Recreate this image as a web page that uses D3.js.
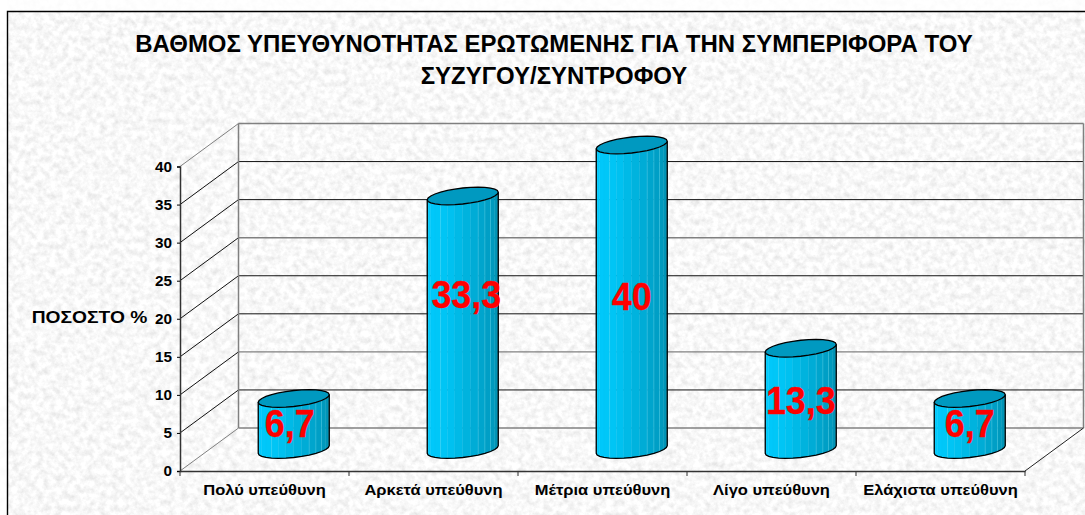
<!DOCTYPE html>
<html>
<head>
<meta charset="utf-8">
<script src="https://cdnjs.cloudflare.com/ajax/libs/d3/7.8.5/d3.min.js"></script>
<style>
html, body { margin: 0; padding: 0; background: #fff; overflow: hidden; }
text { font-family: "Liberation Sans", Arial, sans-serif; font-weight: bold; }
</style>
</head>
<body>
<svg id="chart" width="1085" height="515"></svg>
<script>
var categories = ["Πολύ υπεύθυνη", "Αρκετά υπεύθυνη", "Μέτρια υπεύθυνη", "Λίγο υπεύθυνη", "Ελάχιστα υπεύθυνη"];
var values = [6.7, 33.3, 40, 13.3, 6.7];
var valueLabels = ["6,7", "33,3", "40", "13,3", "6,7"];
var yTicks = [0, 5, 10, 15, 20, 25, 30, 35, 40];
var grayGrid = [0, 10, 25, 40];
var titleLines = ["ΒΑΘΜΟΣ ΥΠΕΥΘΥΝΟΤΗΤΑΣ ΕΡΩΤΩΜΕΝΗΣ ΓΙΑ ΤΗΝ ΣΥΜΠΕΡΙΦΟΡΑ ΤΟΥ", "ΣΥΖΥΓΟΥ/ΣΥΝΤΡΟΦΟΥ"];
var yTitle = "ΠΟΣΟΣΤΟ %";

var svg = d3.select("#chart");

// the original text runs a bit wider than the font does
function stretch(sel, k) {
    sel.each(function () {
        this.setAttribute("textLength", this.getComputedTextLength() * k);
        this.setAttribute("lengthAdjust", "spacingAndGlyphs");
    });
}

// paper texture for the chart area
var defs = svg.append("defs");
var paper = defs.append("filter").attr("id", "paper")
    .attr("x", 0).attr("y", 0).attr("width", "100%").attr("height", "100%");
paper.append("feTurbulence").attr("type", "fractalNoise")
    .attr("baseFrequency", 0.16).attr("numOctaves", 4).attr("seed", 7);
paper.append("feColorMatrix").attr("type", "matrix")
    .attr("values", "0.4 0 0 0 0.74  0.4 0 0 0 0.74  0.4 0 0 0 0.74  0 0 0 0 1");

svg.append("rect").attr("x", 0).attr("y", 0).attr("width", 1085).attr("height", 515)
    .attr("filter", "url(#paper)");
svg.append("rect").attr("x", 0).attr("y", 0).attr("width", 1085).attr("height", 11)
    .attr("fill", "#fff").attr("opacity", 0.8);
svg.append("rect").attr("x", 0).attr("y", 0).attr("width", 7).attr("height", 515)
    .attr("fill", "#fff").attr("opacity", 0.8);

// frame
svg.append("path").attr("d", "M7.5,515V11.5H1085")
    .attr("fill", "none").attr("stroke", "#000").attr("stroke-width", 1.4);

// scales, front plane of the 3d box
var x = d3.scaleBand().domain(categories).range([180, 1025]);
var y = d3.scaleLinear().domain([0, 40]).range([471, 166.5]);
var depthX = 58.5, depthY = -43;

function isGray(d) { return grayGrid.indexOf(d) >= 0; }

// side wall and back wall grid
var grid = svg.append("g").attr("fill", "none");
grid.selectAll("path.side").data(yTicks).enter().append("path")
    .attr("class", "side")
    .attr("d", function (d) {
        return "M" + x.range()[0] + "," + y(d) + "L" + (x.range()[0] + depthX) + "," + (y(d) + depthY);
    })
    .attr("stroke", function (d) { return d === 0 || d === 40 ? "#808080" : "#111"; });
grid.selectAll("path.back").data(yTicks).enter().append("path")
    .attr("class", "back")
    .attr("d", function (d) {
        return "M" + (x.range()[0] + depthX) + "," + (y(d) + depthY) + "H" + (x.range()[1] + depthX);
    })
    .attr("stroke", function (d) { return isGray(d) ? "#808080" : "#111"; })
    .attr("stroke-width", function (d) { return isGray(d) ? 1.4 : 1; });
grid.append("path")
    .attr("d", "M" + (x.range()[0] + depthX) + "," + (y(0) + depthY) + "V" + (y(40) + depthY))
    .attr("stroke", "#808080").attr("stroke-width", 1.5);
grid.append("path")
    .attr("d", "M" + (x.range()[1] + depthX) + "," + (y(0) + depthY) + "V" + (y(40) + depthY))
    .attr("stroke", "#808080").attr("stroke-width", 1.5);
grid.append("path")
    .attr("d", "M" + x.range()[1] + "," + y(0) + "L" + (x.range()[1] + depthX) + "," + (y(0) + depthY))
    .attr("stroke", "#222");

// cylinders
var radiusX = 35.5, radiusY = 8, tilt = 3.8, facets = 14;
var lightEdges = [4, 9, 10, 11];
var shade = d3.scaleLinear().domain([0, 0.35, 0.7, 1]).range(["#00ccff", "#00c4f4", "#00a4cc", "#0090b0"]);

function rimPoint(cx, cy, t) {
    return [cx + radiusX * Math.cos(t), cy + radiusY * Math.sin(t) - tilt * Math.cos(t)];
}

svg.append("g").selectAll("g").data(categories).enter().append("g")
    .each(function (c, i) {
        var g = d3.select(this);
        var cx = x(c) + x.bandwidth() / 2 + depthX / 2;
        var base = y(0) + depthY / 2;
        var top = y(values[i]) + depthY / 2;
        var h = base - top;
        var line = d3.line();

        // front half of the tube in flat strips, left to right
        d3.range(facets).forEach(function (k) {
            var t0 = Math.PI - Math.PI * k / facets;
            var t1 = Math.PI - Math.PI * (k + 1) / facets;
            var a = rimPoint(cx, base, t0), b = rimPoint(cx, base, t1);
            g.append("path")
                .attr("d", line([a, b, [b[0], b[1] - h], [a[0], a[1] - h]]) + "Z")
                .attr("fill", shade(k / (facets - 1)))
                .attr("stroke", shade(k / (facets - 1))).attr("stroke-width", 0.4);
        });

        // pale seams between some strips
        lightEdges.forEach(function (k) {
            var p = rimPoint(cx, base, Math.PI - Math.PI * k / facets);
            g.append("path").attr("d", line([p, [p[0], p[1] - h]]))
                .attr("stroke", "#66dcf5").attr("stroke-width", 0.6).attr("opacity", 0.6).attr("fill", "none");
        });

        // outline of the tube
        var lower = d3.range(facets + 1).map(function (k) {
            return rimPoint(cx, base, Math.PI - Math.PI * k / facets);
        });
        var first = lower[0], last = lower[facets];
        g.append("path")
            .attr("d", "M" + first[0] + "," + (first[1] - h) + line(lower).replace("M", "L") +
                "L" + last[0] + "," + (last[1] - h))
            .attr("fill", "none").attr("stroke", "#000").attr("stroke-width", 1.3);

        // top cap
        var cap = d3.range(facets * 2).map(function (k) {
            return rimPoint(cx, top, 2 * Math.PI * k / (facets * 2));
        });
        g.append("path").attr("d", line(cap) + "Z")
            .attr("fill", "#0099c0").attr("stroke", "#000").attr("stroke-width", 1.3);
    });

// front axes
var yAxis = d3.axisLeft(y).tickValues(yTicks).tickSize(3).tickPadding(5);
var gy = svg.append("g").attr("transform", "translate(" + x.range()[0] + ",0)").call(yAxis);
gy.select(".domain").attr("stroke", "#333").attr("stroke-width", 1.5);
gy.selectAll("text").attr("font-size", 15).attr("fill", "#000")
    .style("font-family", '"Liberation Sans", Arial, sans-serif')
    .call(stretch, 1.02);

var xAxis = d3.axisBottom(x).tickSize(0).tickPadding(13);
var gx = svg.append("g").attr("transform", "translate(0," + y(0) + ")").call(xAxis);
gx.select(".domain").attr("stroke", "#333").attr("stroke-width", 1.5);
gx.selectAll("text").attr("font-size", 15).attr("fill", "#000")
    .style("font-family", '"Liberation Sans", Arial, sans-serif')
    .call(stretch, 1.1);
gx.append("g").selectAll("line").data(categories.concat([null])).enter().append("line")
    .attr("x1", function (d) { return d ? x(d) : x.range()[1]; })
    .attr("x2", function (d) { return d ? x(d) : x.range()[1]; })
    .attr("y1", 0).attr("y2", 5).attr("stroke", "#333");

// value labels, centred in the bar, the tall ones sit at the same height
var labelNudge = [[-4, 0], [3.5, -2], [0, 0], [0, 2], [0, 0]];
svg.append("g").selectAll("text").data(categories).enter().append("text")
    .attr("x", function (c, i) { return x(c) + x.bandwidth() / 2 + depthX / 2 + labelNudge[i][0]; })
    .attr("y", function (c, i) {
        var mid = values[i] > 30 ? 20 : values[i] / 2;
        return y(mid) + depthY / 2 + 13 + labelNudge[i][1];
    })
    .attr("text-anchor", "middle").attr("font-size", 38.5).attr("fill", "#ff0000")
    .attr("stroke", "#ff0000").attr("stroke-width", 0.3)
    .text(function (c, i) { return valueLabels[i]; })
    .call(stretch, 0.93);

// titles
svg.append("g").selectAll("text").data(titleLines).enter().append("text")
    .attr("x", 554).attr("y", function (d, i) { return 52 + i * 32; })
    .attr("text-anchor", "middle").attr("font-size", 23.5).attr("fill", "#000")
    .text(function (d) { return d; })
    .call(stretch, 1.02);
svg.append("text").attr("x", 89.5).attr("y", 323).attr("text-anchor", "middle")
    .attr("font-size", 17).attr("fill", "#000").text(yTitle)
    .call(stretch, 1.13);
</script>
</body>
</html>
